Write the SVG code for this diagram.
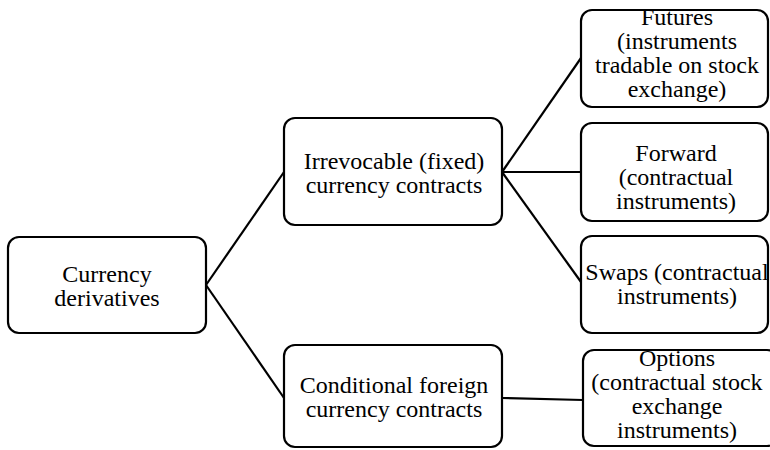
<svg xmlns="http://www.w3.org/2000/svg" width="770" height="450" viewBox="0 0 770 450">
<style>
.box{fill:#fff;stroke:#000;stroke-width:2.2}
.t{font-family:"Liberation Serif","Times New Roman",serif;font-size:24px;fill:#000;text-anchor:middle}
.c{stroke:#000;stroke-width:2.2;fill:none}
</style>
<rect width="770" height="450" fill="#fff"/>
<g id="connectors">
<line class="c" x1="206" y1="285" x2="284" y2="172"/>
<line class="c" x1="206" y1="285" x2="284" y2="398"/>
<line class="c" x1="502" y1="172" x2="581" y2="58"/>
<line class="c" x1="502" y1="172" x2="581" y2="172"/>
<line class="c" x1="502" y1="172" x2="581" y2="282"/>
<line class="c" x1="502" y1="398" x2="583" y2="400"/>
</g>
<g id="n-currency">
<rect class="box" x="8" y="237" width="198" height="96" rx="11"/>
<text class="t" x="107" y="282">Currency</text>
<text class="t" x="107" y="306">derivatives</text>
</g>
<g id="n-irrevocable">
<rect class="box" x="284" y="118" width="218" height="107" rx="11"/>
<text class="t" x="394" y="169">Irrevocable (fixed)</text>
<text class="t" x="394" y="193">currency contracts</text>
</g>
<g id="n-conditional">
<rect class="box" x="284" y="345" width="218" height="102" rx="11"/>
<text class="t" x="394" y="393">Conditional foreign</text>
<text class="t" x="394" y="417">currency contracts</text>
</g>
<g id="n-futures">
<rect class="box" x="581" y="10" width="187" height="97" rx="11"/>
<text class="t" x="677" y="25">Futures</text>
<text class="t" x="677" y="49">(instruments</text>
<text class="t" x="677" y="73">tradable on stock</text>
<text class="t" x="677" y="97">exchange)</text>
</g>
<g id="n-forward">
<rect class="box" x="581" y="123" width="187" height="98" rx="11"/>
<text class="t" x="676" y="161">Forward</text>
<text class="t" x="676" y="185">(contractual</text>
<text class="t" x="676" y="209">instruments)</text>
</g>
<g id="n-swaps">
<rect class="box" x="581" y="236" width="187" height="97" rx="11"/>
<text class="t" x="677" y="280">Swaps (contractual</text>
<text class="t" x="677" y="304">instruments)</text>
</g>
<g id="n-options">
<rect class="box" x="583" y="350" width="195" height="96" rx="11"/>
<text class="t" x="677" y="366">Options</text>
<text class="t" x="677" y="390">(contractual stock</text>
<text class="t" x="677" y="414">exchange</text>
<text class="t" x="677" y="438">instruments)</text>
</g>
</svg>
